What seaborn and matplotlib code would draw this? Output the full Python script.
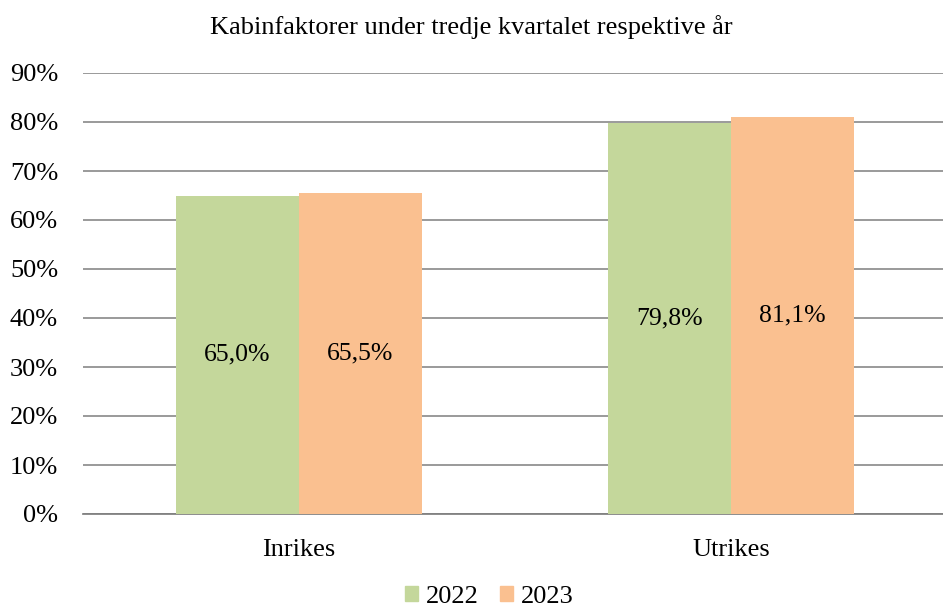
import pandas as pd
import matplotlib.pyplot as plt
import seaborn as sns
from matplotlib.ticker import PercentFormatter

sns.set_theme(style="white")
plt.rcParams["font.family"] = ["Liberation Serif", "DejaVu Serif"]
plt.rcParams["text.color"] = "black"

# Data
categories = ["Inrikes", "Utrikes"]
years = ["2022", "2023"]
values_2022 = [65.0, 79.8]
values_2023 = [65.5, 81.1]
colors = ["#C4D79B", "#FAC090"]

data = pd.DataFrame({
    "kategori": categories * 2,
    "år": [years[0]] * 2 + [years[1]] * 2,
    "värde": values_2022 + values_2023,
})

fig = plt.figure(figsize=(9.43, 6.09), dpi=100)
ax = fig.add_axes([83 / 943, 1 - 514 / 609, 864 / 943, 441 / 609])

sns.barplot(data=data, x="kategori", y="värde", hue="år", palette=colors,
            width=0.57, gap=0, saturation=1, ax=ax, zorder=3, edgecolor="none")

# Labels inside bars
for cont in ax.containers:
    labels = [f"{v:.1f}%".replace(".", ",") for v in cont.datavalues]
    ax.bar_label(cont, labels=labels, label_type="center", fontsize=18.5, color="black")

ax.set_ylim(0, 90)
ax.set_xlim(-0.5, 1.5)
ax.set_yticks(range(0, 91, 10))
ax.yaxis.set_major_formatter(PercentFormatter(decimals=0))
ax.yaxis.grid(True, color="#7F7F7F", linewidth=1.1, zorder=0)
ax.set_axisbelow(True)
for s in ["left", "right", "top"]:
    ax.spines[s].set_visible(False)
ax.spines["bottom"].set_color("#7F7F7F")
ax.tick_params(axis="both", length=0, labelsize=19, colors="black")
ax.tick_params(axis="x", pad=18)
ax.tick_params(axis="y", pad=18)
ax.set_xlabel("")
ax.set_ylabel("")

fig.text(0.5, 1 - 27 / 609, "Kabinfaktorer under tredje kvartalet respektive år",
         ha="center", va="center", fontsize=19)

ax.legend_.remove()
handles = [plt.Rectangle((0, 0), 1, 1, color=c) for c in colors]
fig.legend(handles, years, loc="center", bbox_to_anchor=(0.5 + 18 / 943, 1 - 597 / 609),
           ncol=2, frameon=False, fontsize=19, handlelength=0.5, handleheight=0.5,
           handletextpad=0.3, columnspacing=0.8, borderpad=0)

plt.savefig("out.png", dpi=100)
